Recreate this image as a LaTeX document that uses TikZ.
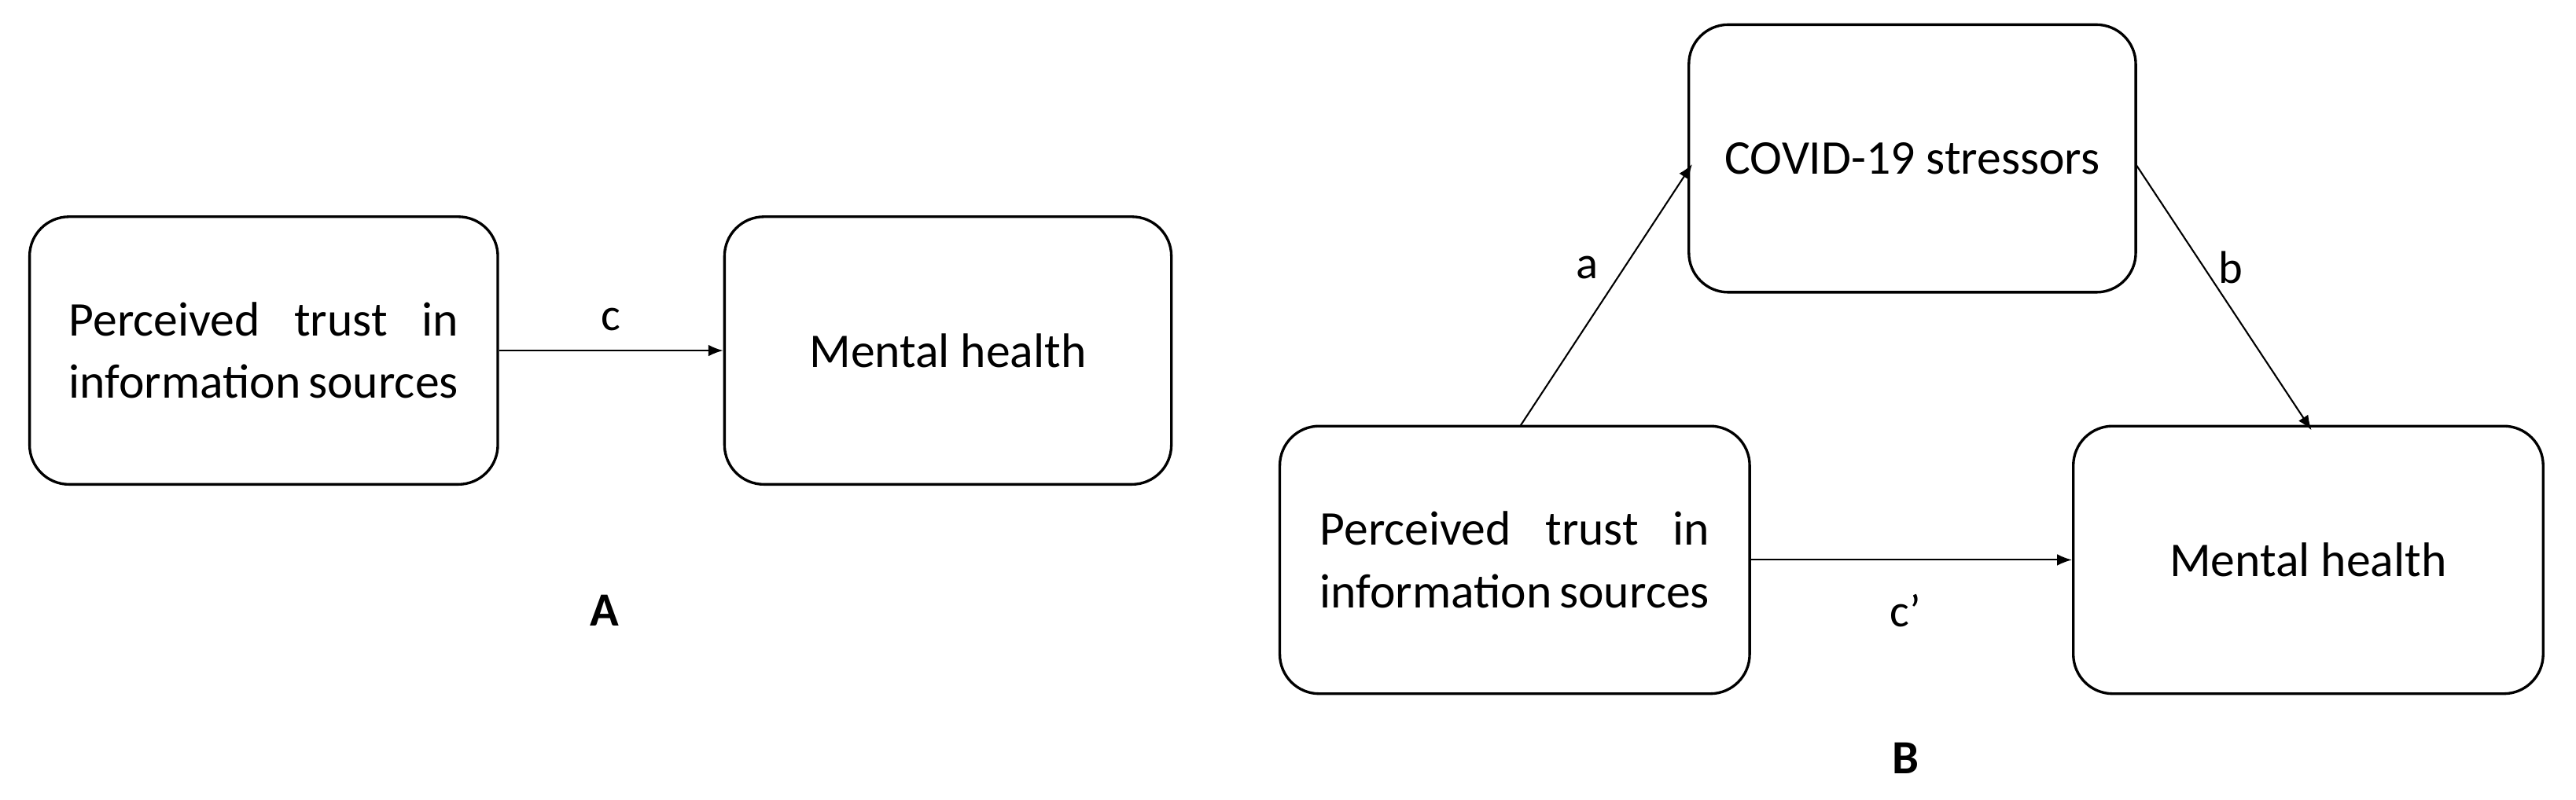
\documentclass[tikz,border=0pt]{standalone}
\usepackage{fontspec}
\setmainfont{Carlito}
\usetikzlibrary{arrows.meta}
\begin{document}
\begin{tikzpicture}[x=1pt,y=-1pt,
  box/.style={draw,line width=1.6pt,rounded corners=24pt,minimum width=#1,minimum height=163pt,font=\fontsize{29.5}{38}\selectfont,align=center},
  lbl/.style={font=\fontsize{28}{30}\selectfont},
  arr/.style={-{Latex[length=9pt,width=7pt]},line width=1pt}]
\useasboundingbox (0,0) rectangle (1568,487);
\node[box=285pt] (a1) at (160.5,213.5) {\parbox{237pt}{\fontsize{29.5}{38}\selectfont\parfillskip0pt Perceived trust in\par\parfillskip0pt plus 1fil information sources}};
\node[box=272pt] (a2) at (577,213.5) {Mental health};
\draw[arr] (a1.east) -- (a2.west) node[lbl,midway,above=8pt] {c};
\node[lbl,font=\fontsize{29}{30}\selectfont\bfseries] (la) at (368,372) {A};
\node[box=272pt] (bt) at (1164,96.5) {COVID-19 stressors};
\node[box=286pt] (bl) at (922,341) {\parbox{237pt}{\fontsize{29.5}{38}\selectfont\parfillskip0pt Perceived trust in\par\parfillskip0pt plus 1fil information sources}};
\node[box=286pt] (br) at (1405,341) {Mental health};
\coordinate (s1) at (925,260);
\coordinate (e1) at (1030,100);
\coordinate (s2) at (1300,100);
\coordinate (e2) at (1407,262);
\draw[arr] (s1) -- (e1);
\draw[arr] (s2) -- (e2);
\node[lbl] (la1) at (966,163) {a};
\node[lbl] (lb1) at (1358,163) {b};
\draw[arr] (bl.east) -- (br.west);
\node[lbl] (lc) at (1160,372) {c’};
\node[lbl,font=\fontsize{29}{30}\selectfont\bfseries] (lB) at (1160,462) {B};
\end{tikzpicture}
\end{document}
